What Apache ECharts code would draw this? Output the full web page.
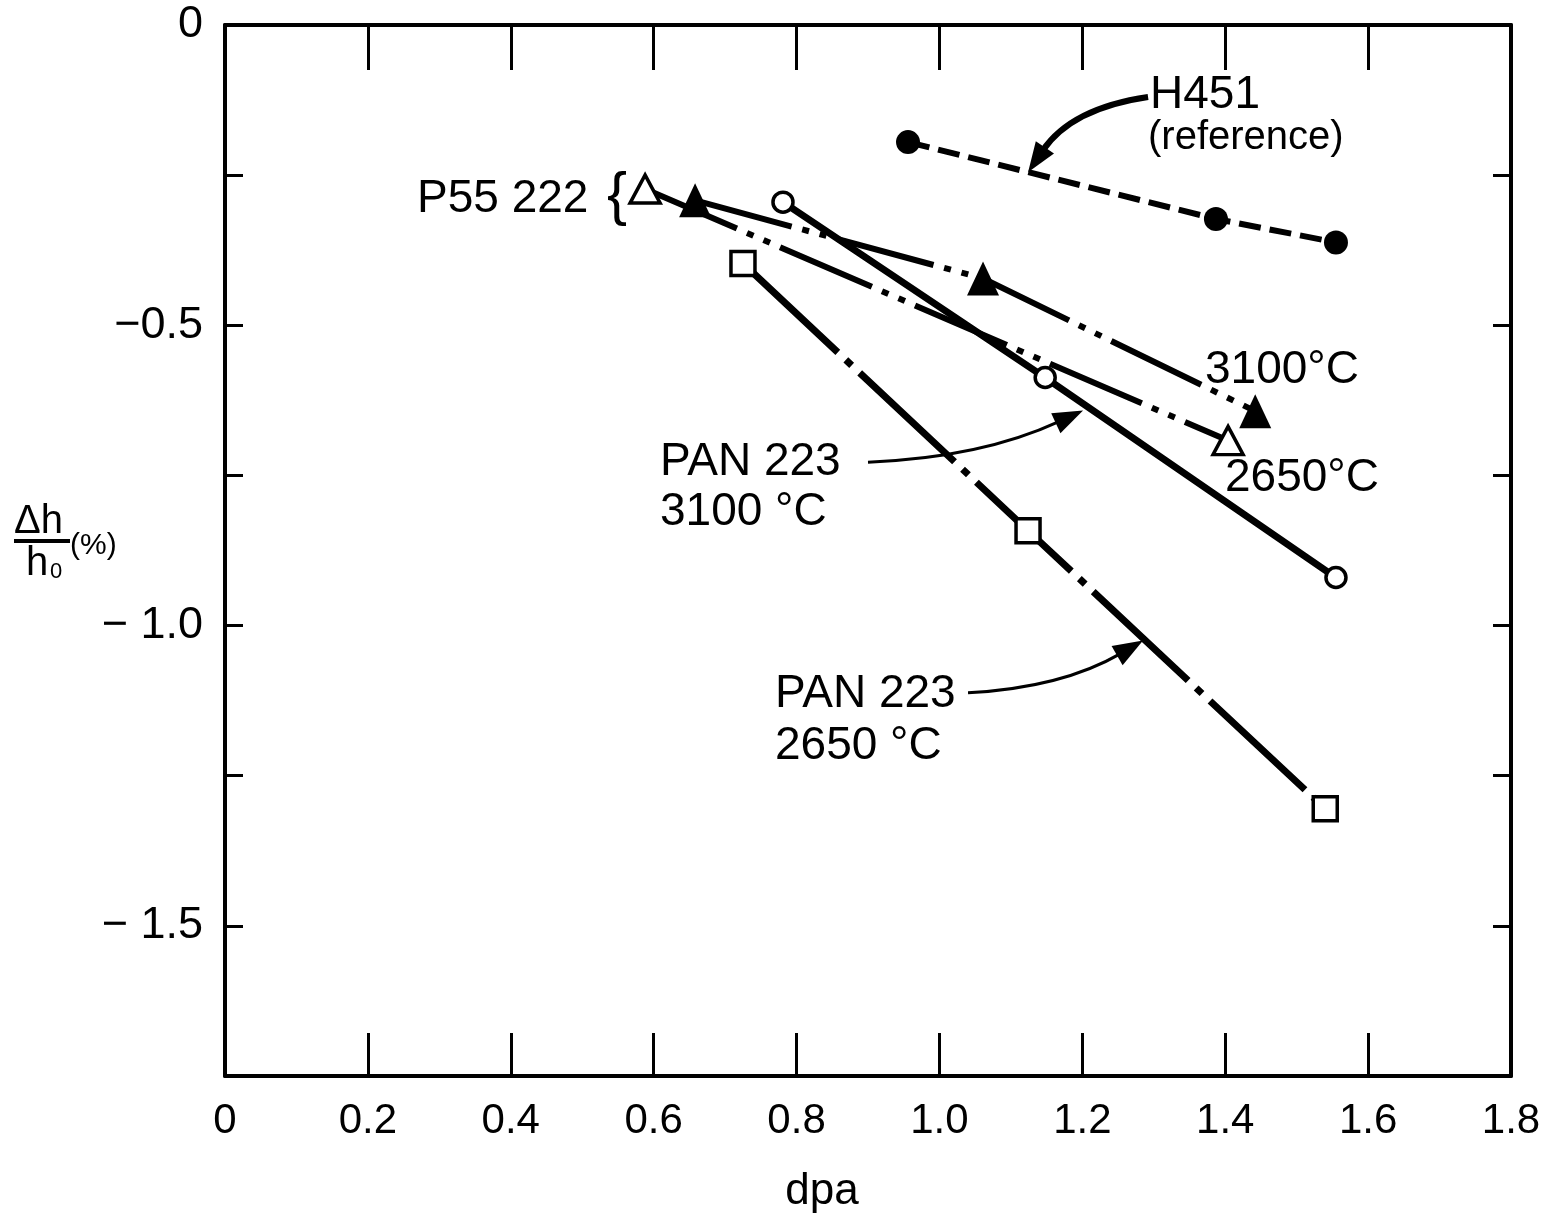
<!DOCTYPE html>
<html>
<head>
<meta charset="utf-8">
<script src="https://cdn.jsdelivr.net/npm/echarts@6/dist/echarts.min.js"></script>
<style>
  html, body { margin: 0; padding: 0; background: #fff; }
  #chart { width: 1552px; height: 1221px; }
</style>
</head>
<body>
<div id="chart"></div>
<script>
// dpa (x) and Δh/h0 in % (y)
var h451X = [0.956, 1.387, 1.555];
var h451Y = [-0.195, -0.323, -0.362];

var p55hotX = [0.658, 1.061, 1.442];     // P55 222, 3100°C (filled triangles)
var p55hotY = [-0.292, -0.422, -0.643];

var p55coldX = [0.588, 1.404];           // P55 222, 2650°C (open triangles)
var p55coldY = [-0.273, -0.692];

var pan3100X = [0.781, 1.148, 1.555];    // PAN 223, 3100°C (open circles)
var pan3100Y = [-0.295, -0.587, -0.92];

var pan2650X = [0.725, 1.124, 1.540];    // PAN 223, 2650°C (open squares)
var pan2650Y = [-0.397, -0.842, -1.305];

var yTickLabels = { '0': '0', '-0.5': '−0.5', '-1': '− 1.0', '-1.5': '− 1.5' };

// annotation arrows: start, end (data coords), line width, curveness
var arrows = [
  { from: [1.292, -0.12], to: [1.124, -0.245], width: 6, curve: -0.22 },
  { from: [0.90, -0.728], to: [1.201, -0.642], width: 3, curve: -0.1 },
  { from: [1.04, -1.112], to: [1.285, -1.025], width: 3, curve: -0.12 }
];

function pairs(xs, ys) {
  return xs.map(function (x, i) { return [x, ys[i]]; });
}

var FONT = 'Liberation Sans';

function txt(x, y, s, size, align) {
  return {
    type: 'text', x: x, y: y, silent: true,
    style: {
      text: s, fill: '#000', fontSize: size, fontFamily: FONT,
      align: align || 'left', verticalAlign: 'middle',
      textAlign: align || 'left', textVerticalAlign: 'middle'
    }
  };
}

var chart = echarts.init(document.getElementById('chart'));

var axisBase = {
  type: 'value',
  splitLine: { show: false },
  axisLine: { show: true, onZero: false, lineStyle: { color: '#000', width: 4 } },
  axisTick: { show: true, inside: true, lineStyle: { color: '#000', width: 3 } }
};

var texts = [
  txt(1150, 95, 'H451', 46),
  txt(1148, 138, '(reference)', 40),
  txt(417, 199, 'P55 222', 46),
  txt(607, 197, '{', 60),
  txt(1205, 370, '3100°C', 46),
  txt(1225, 478, '2650°C', 46),
  txt(660, 462, 'PAN 223', 46),
  txt(660, 512, '3100 °C', 46),
  txt(775, 694, 'PAN 223', 46),
  txt(775, 746, '2650 °C', 46),
  txt(822, 1192, 'dpa', 44, 'center'),
  // y axis title: Δh over h0, then (%)
  txt(14, 522, 'Δh', 40),
  { type: 'line', silent: true, shape: { x1: 14, y1: 541, x2: 70, y2: 541 },
    style: { stroke: '#000', lineWidth: 4 } },
  txt(26, 564, 'h', 40),
  txt(50, 572, '0', 22),
  txt(70, 546, '(%)', 30)
];

var option = {
  animation: false,
  backgroundColor: '#fff',
  grid: { left: 225, right: 41, top: 25, bottom: 145 },
  xAxis: [
    Object.assign({}, axisBase, {
      min: 0, max: 1.8, interval: 0.2, position: 'bottom',
      axisTick: { show: true, inside: true, length: 43, lineStyle: { color: '#000', width: 3 } },
      axisLabel: {
        color: '#000', fontSize: 42, fontFamily: FONT, margin: 24,
        formatter: function (v) { return v === 0 ? '0' : v.toFixed(1); }
      }
    }),
    Object.assign({}, axisBase, {
      min: 0, max: 1.8, interval: 0.2, position: 'top',
      axisTick: { show: true, inside: true, length: 45, lineStyle: { color: '#000', width: 3 } },
      axisLabel: { show: false }
    })
  ],
  yAxis: [
    Object.assign({}, axisBase, {
      min: -1.75, max: 0, interval: 0.25, position: 'left',
      axisTick: { show: true, inside: true, length: 18, lineStyle: { color: '#000', width: 3 } },
      axisLabel: {
        color: '#000', fontSize: 45, fontFamily: FONT, margin: 22,
        formatter: function (v) {
          var k = String(Math.round(v * 100) / 100);
          return yTickLabels[k] || '';
        }
      }
    }),
    Object.assign({}, axisBase, {
      min: -1.75, max: 0, interval: 0.25, position: 'right',
      axisTick: { show: true, inside: true, length: 18, lineStyle: { color: '#000', width: 3 } },
      axisLabel: { show: false }
    })
  ],
  series: [
    {
      name: 'H451 (reference)', type: 'line', data: pairs(h451X, h451Y),
      symbol: 'circle', symbolSize: 24,
      itemStyle: { color: '#000' },
      lineStyle: { color: '#000', width: 6, type: [22, 9] }
    },
    {
      name: 'P55 222 2650°C', type: 'line', data: pairs(p55coldX, p55coldY),
      symbol: 'triangle', symbolSize: [30, 28],
      itemStyle: { color: '#fff', borderColor: '#000', borderWidth: 3.5 },
      lineStyle: { color: '#000', width: 6, type: [100, 11, 7, 11, 7, 11] }
    },
    {
      name: 'P55 222 3100°C', type: 'line', data: pairs(p55hotX, p55hotY),
      symbol: 'triangle', symbolSize: [32, 34],
      itemStyle: { color: '#000' },
      lineStyle: { color: '#000', width: 6, type: [100, 11, 7, 11, 7, 11] }
    },
    {
      name: 'PAN 223 3100°C', type: 'line', data: pairs(pan3100X, pan3100Y),
      symbol: 'circle', symbolSize: 20,
      itemStyle: { color: '#fff', borderColor: '#000', borderWidth: 3.5 },
      lineStyle: { color: '#000', width: 7 }
    },
    {
      name: 'PAN 223 2650°C', type: 'line', data: pairs(pan2650X, pan2650Y),
      symbol: 'rect', symbolSize: 24,
      itemStyle: { color: '#fff', borderColor: '#000', borderWidth: 3.5 },
      lineStyle: { color: '#000', width: 7, type: [130, 11, 8, 11] }
    }
  ],
  graphic: texts
};

chart.setOption(option);

// curved annotation arrows, placed through the axes
var arrowEls = [];
arrows.forEach(function (a) {
  var p1 = chart.convertToPixel({ gridIndex: 0 }, a.from);
  var p2 = chart.convertToPixel({ gridIndex: 0 }, a.to);
  var cpx = (p1[0] + p2[0]) / 2 - (p1[1] - p2[1]) * a.curve;
  var cpy = (p1[1] + p2[1]) / 2 - (p2[0] - p1[0]) * a.curve;
  var dx = p2[0] - cpx, dy = p2[1] - cpy;
  var len = Math.sqrt(dx * dx + dy * dy);
  var ux = dx / len, uy = dy / len;
  var headL = 30, headW = 11;
  var bx = p2[0] - ux * headL, by = p2[1] - uy * headL;
  arrowEls.push({
    type: 'bezierCurve', silent: true,
    shape: { x1: p1[0], y1: p1[1], cpx1: cpx, cpy1: cpy, x2: bx + ux * 4, y2: by + uy * 4 },
    style: { stroke: '#000', lineWidth: a.width, fill: null }
  });
  arrowEls.push({
    type: 'polygon', silent: true,
    shape: { points: [[p2[0], p2[1]], [bx - uy * headW, by + ux * headW], [bx + uy * headW, by - ux * headW]] },
    style: { fill: '#000' }
  });
});
chart.setOption({ graphic: texts.concat(arrowEls) });
</script>
</body>
</html>
